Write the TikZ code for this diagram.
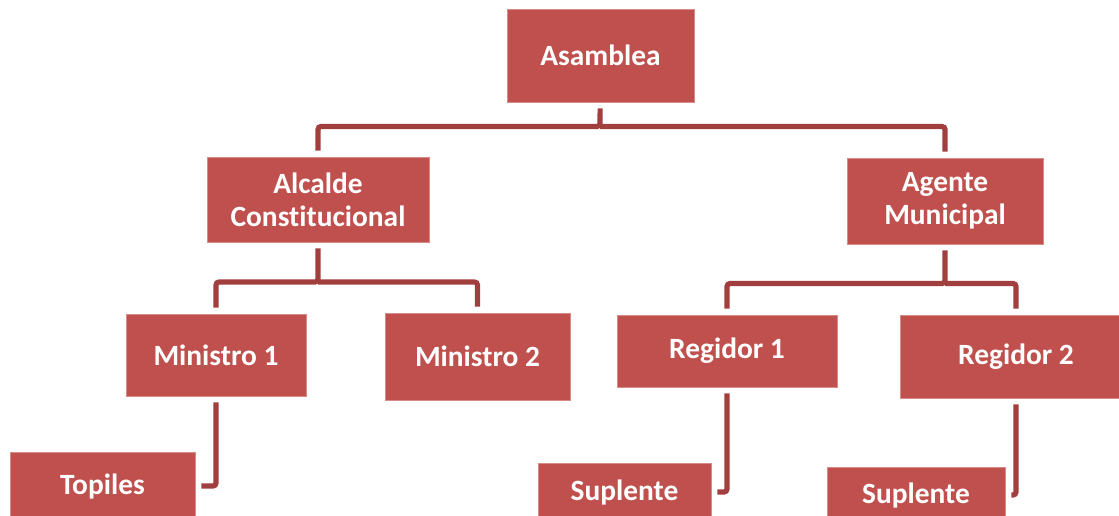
\documentclass[tikz,border=0pt]{standalone}
\usepackage{fontspec}
\setmainfont{Carlito}[Ligatures=NoCommon]
\definecolor{caja}{HTML}{C0504D}
\definecolor{linea}{HTML}{A03F3D}
\definecolor{borde}{HTML}{D88C8A}
\tikzset{
  cargo/.style={rectangle,fill=caja,draw=borde,line width=0.4pt,inner sep=0pt,
    text=white,font=\bfseries\fontsize{14.7}{16.4}\selectfont,align=center},
  enlace/.style={draw=linea,line width=2.6pt,rounded corners=1.5pt,
    shorten <=3pt,shorten >=3pt}
}
\begin{document}
\begin{tikzpicture}[x=0.5pt,y=-0.5pt]
\clip (0,0) rectangle (1119,515);
% cargos
\node[cargo,minimum width=93.5pt,minimum height=46.5pt] (asam) at (600.5,55.5) {Asamblea};
\node[cargo,minimum width=111pt,minimum height=42.5pt] (alc) at (318,199.5) {Alcalde\\Constitucional};
\node[cargo,minimum width=98pt,minimum height=43pt] (age) at (945,201) {Agente\\Municipal};
\node[cargo,minimum width=90pt,minimum height=41pt] (min1) at (216,355) {Ministro 1};
\node[cargo,minimum width=92.5pt,minimum height=43.5pt] (min2) at (477.5,356.5) {Ministro 2};
\node[cargo,minimum width=110pt,minimum height=36pt] (reg1) at (727,351) {Regidor 1};
\node[cargo,minimum width=116pt,minimum height=41.5pt] (reg2) at (1016,356.5) {Regidor 2};
\node[cargo,minimum width=92.5pt,minimum height=34pt] (top) at (102.5,486) {Topiles};
\node[cargo,minimum width=86.5pt,minimum height=29pt] (sup1) at (624.5,492) {Suplente};
\node[cargo,minimum width=89pt,minimum height=28pt] (sup2) at (916,495) {Suplente};
% enlaces
\coordinate (b0) at (600,126.5);
\coordinate (b1) at (318,282);
\coordinate (b2) at (945,283.5);
\draw[enlace] (asam) -- (b0) -| (alc);
\draw[enlace,shorten <=0pt] (b0) -| (age);
\draw[enlace] (alc) -- (b1) -| (min1);
\draw[enlace,shorten <=0pt] (b1) -| (min2);
\draw[enlace] (age) -- (b2) -| (reg1);
\draw[enlace,shorten <=0pt] (b2) -| (reg2);
\draw[enlace] (min1) |- (top);
\draw[enlace] (reg1) |- (sup1);
\draw[enlace] (reg2) |- (sup2);
\end{tikzpicture}
\end{document}
